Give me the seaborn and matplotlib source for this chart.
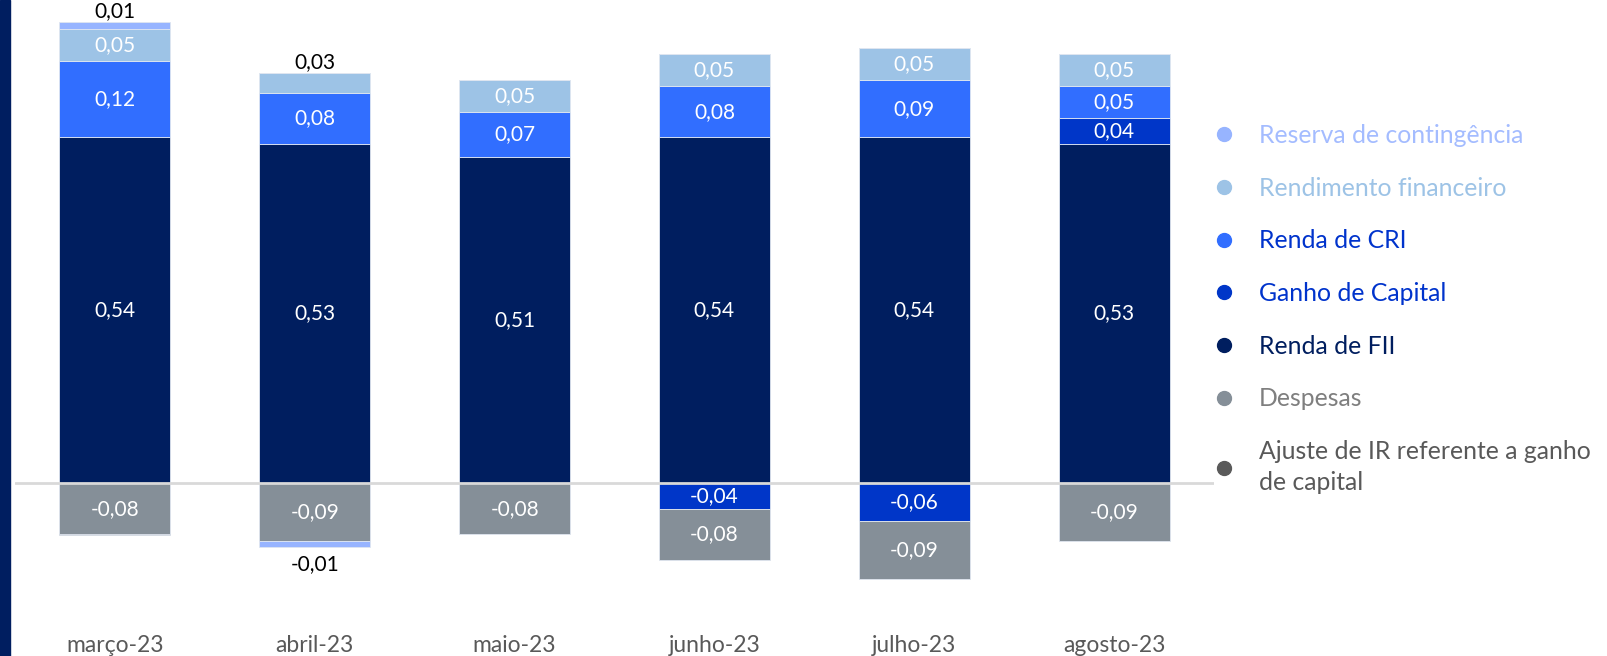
import numpy as np
import matplotlib
matplotlib.use("Agg")
import matplotlib.pyplot as plt
from matplotlib.lines import Line2D
from matplotlib.patches import Rectangle
import seaborn as sns

# Composição mensal do rendimento (R$/cota)
meses = ["março-23", "abril-23", "maio-23", "junho-23", "julho-23", "agosto-23"]
renda_fii = [0.54, 0.53, 0.51, 0.54, 0.54, 0.53]
ganho_capital = [0.00, 0.00, 0.00, -0.04, -0.06, 0.04]
renda_cri = [0.12, 0.08, 0.07, 0.08, 0.09, 0.05]
rendimento_financeiro = [0.05, 0.03, 0.05, 0.05, 0.05, 0.05]
reserva_contingencia = [0.01, -0.01, 0.00, 0.00, 0.00, 0.00]
despesas = [-0.08, -0.09, -0.08, -0.08, -0.09, -0.09]
ajuste_ir = [-0.002, 0.00, 0.00, 0.00, 0.00, 0.00]

cores = {
    "Reserva de contingência": "#97b4ff",
    "Rendimento financeiro": "#9dc3e6",
    "Renda de CRI": "#316eff",
    "Ganho de Capital": "#0036c8",
    "Renda de FII": "#001e5f",
    "Despesas": "#858f98",
    "Ajuste de IR referente a ganho de capital": "#5a5a5a",
}
cores_texto = ["#a4bcff", "#9dc3e6", "#0033cc", "#0033cc", "#001e5f", "#7f7f7f", "#595959"]

# Ordem de empilhamento (positivos sobem, negativos descem nesta ordem)
pilha = [
    ("Renda de FII", renda_fii),
    ("Ganho de Capital", ganho_capital),
    ("Renda de CRI", renda_cri),
    ("Rendimento financeiro", rendimento_financeiro),
    ("Despesas", despesas),
    ("Reserva de contingência", reserva_contingencia),
    ("Ajuste de IR referente a ganho de capital", ajuste_ir),
]

sns.set_theme(style="white")
plt.rcParams["font.family"] = ["Lato", "DejaVu Sans"]

W, H = 1608, 656
fig = plt.figure(figsize=(W / 100, H / 100), dpi=100)
ax = fig.add_axes([15 / W, (H - 600) / H, (1214 - 15) / W, 595 / H])

# faixa decorativa à esquerda
fig.patches.append(Rectangle((0, 0), 10 / W, 1, transform=fig.transFigure,
                             color="#001e60", zorder=5))

largura = 0.555
pos_base = np.zeros(len(meses))
neg_base = np.zeros(len(meses))
rotulos = []
for nome, valores in pilha:
    v = np.array(valores, dtype=float)
    base = np.where(v >= 0, pos_base, neg_base)
    sns.barplot(x=meses, y=v, bottom=base, order=meses, color=cores[nome],
                saturation=1, width=largura, edgecolor="#dfe6f0", linewidth=0.6,
                ax=ax, zorder=2)
    for i, val in enumerate(v):
        if abs(val) >= 0.005:
            rotulos.append((i, val, base[i]))
    pos_base = pos_base + np.where(v > 0, v, 0)
    neg_base = neg_base + np.where(v < 0, v, 0)

def fmt(val):
    return f"{val:.2f}".replace(".", ",")

for i, val, b in rotulos:
    if abs(val) >= 0.035:
        ax.text(i, b + val / 2, fmt(val), ha="center", va="center",
                color="white", fontsize=15, zorder=4)
    elif val > 0:
        ax.annotate(fmt(val), (i, b + val), xytext=(0, 1), textcoords="offset points",
                    ha="center", va="bottom", color="black", fontsize=15,
                    annotation_clip=False)
    else:
        ax.annotate(fmt(val), (i, b + val), xytext=(0, -5), textcoords="offset points",
                    ha="center", va="top", color="black", fontsize=15,
                    annotation_clip=False)

ax.axhline(0, color="#d9d9d9", lw=2, zorder=3)
ax.set_xlim(-0.5, len(meses) - 0.5)
ax.set_ylim(-(600 - 483) / 640, (483 - 5) / 640)
ax.set_yticks([])
ax.set_xlabel("")
ax.set_ylabel("")
ax.tick_params(axis="x", length=0, pad=25, labelsize=16.5, labelcolor="#595959")
sns.despine(ax=ax, left=True, bottom=True)

ordem_legenda = ["Reserva de contingência", "Rendimento financeiro", "Renda de CRI",
                 "Ganho de Capital", "Renda de FII", "Despesas",
                 "Ajuste de IR referente a ganho de capital"]
textos_legenda = ordem_legenda[:-1] + ["Ajuste de IR referente a ganho\nde capital"]
handles = [Line2D([], [], marker="o", linestyle="", markersize=10,
                  markerfacecolor=cores[n], markeredgecolor=cores[n]) for n in ordem_legenda]
leg = fig.legend(handles, textos_legenda, loc="upper left",
                 bbox_to_anchor=(1202 / W, 1 - 114 / H), frameon=False, fontsize=17.8,
                 labelspacing=1.2, handlelength=1, handletextpad=0.9, borderaxespad=0,
                 labelcolor=cores_texto)
for t in leg.get_texts():
    t.set_linespacing(1.45)

fig.savefig("out.png", dpi=100, facecolor="white")
